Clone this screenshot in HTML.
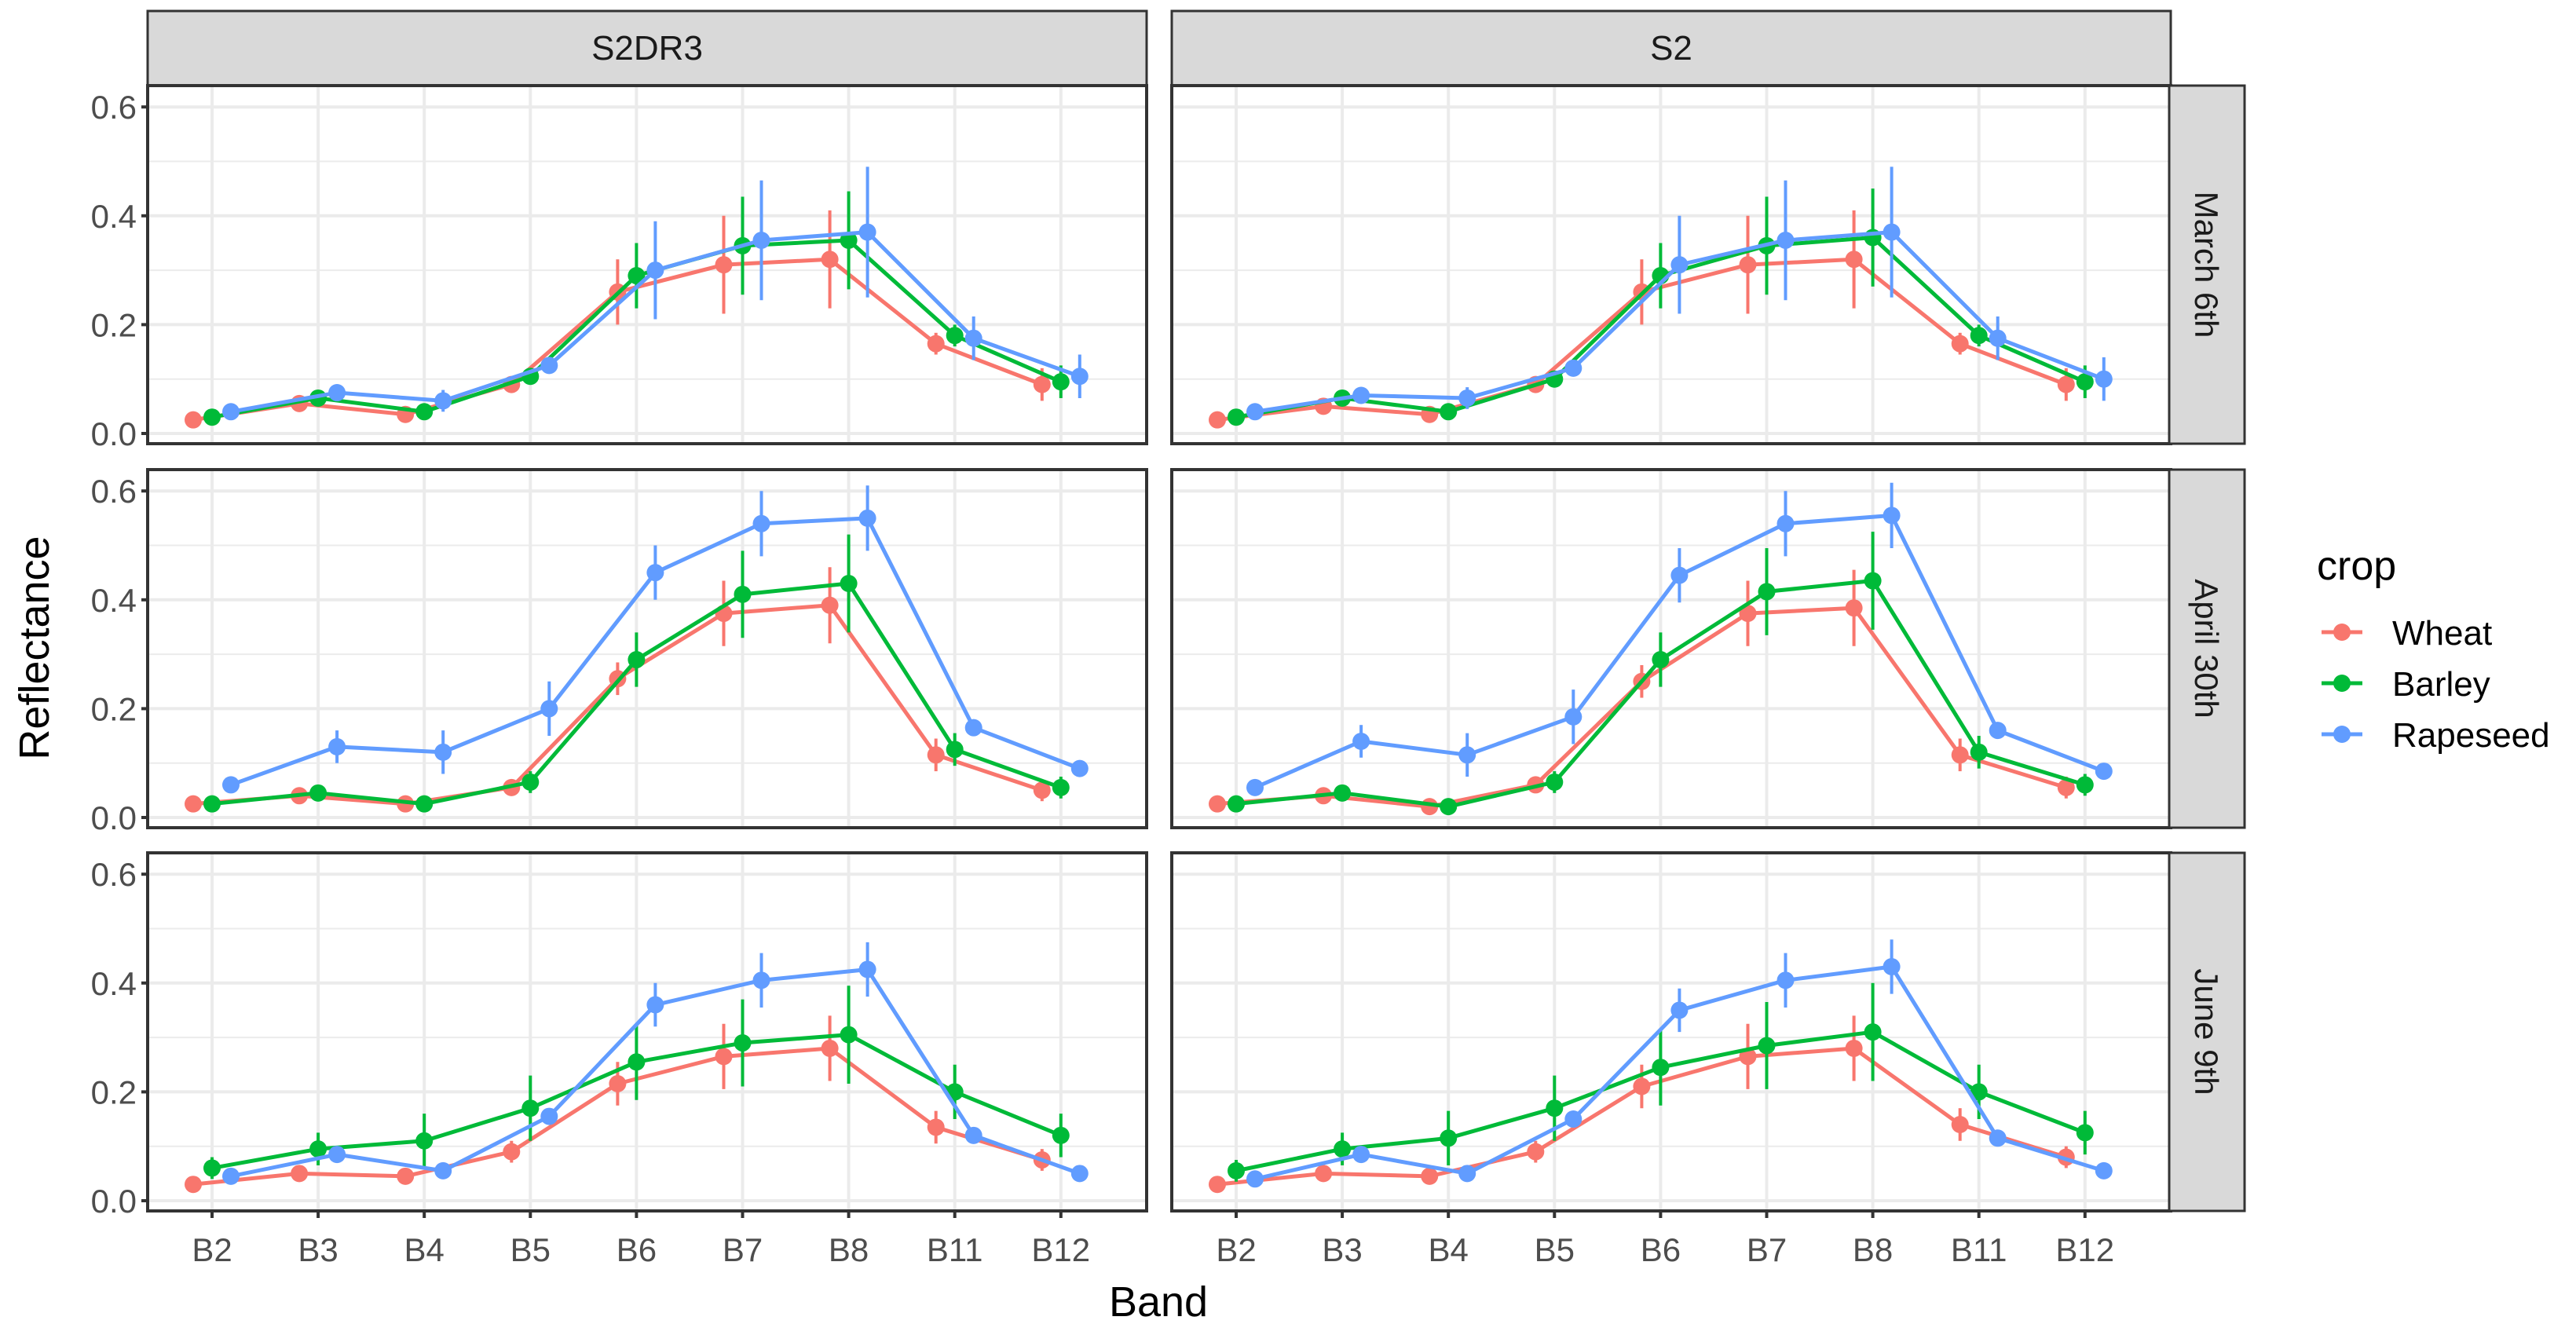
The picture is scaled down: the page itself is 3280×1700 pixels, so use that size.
<!DOCTYPE html>
<html><head><meta charset="utf-8"><style>
html,body{margin:0;padding:0;background:#fff}
svg{display:block;font-family:"Liberation Sans",Arial,sans-serif}
</style></head><body>
<svg id="chart" width="3280" height="1700" viewBox="0 0 3280 1700" xmlns="http://www.w3.org/2000/svg">
<rect width="3280" height="1700" fill="#fff"/>
<g id="layer"></g>
</svg>
<script>
const bands = ["B2","B3","B4","B5","B6","B7","B8","B11","B12"];
const crops = ["Wheat","Barley","Rapeseed"];
const sensors = ["S2DR3","S2"];
const dates = ["March 6th","April 30th","June 9th"];
const yTicks = [0.0,0.2,0.4,0.6];
const yTickLabels = ["0.0","0.2","0.4","0.6"];
// means [date][sensor][crop]
const wheatMean = [
 [[.025,.055,.035,.09,.26,.31,.32,.165,.09],[.025,.05,.035,.09,.26,.31,.32,.165,.09]],
 [[.025,.04,.025,.055,.255,.375,.39,.115,.05],[.025,.04,.02,.06,.25,.375,.385,.115,.055]],
 [[.03,.05,.045,.09,.215,.265,.28,.135,.075],[.03,.05,.045,.09,.21,.265,.28,.14,.08]]
];
const barleyMean = [
 [[.03,.065,.04,.105,.29,.345,.355,.18,.095],[.03,.065,.04,.10,.29,.345,.36,.18,.095]],
 [[.025,.045,.025,.065,.29,.41,.43,.125,.055],[.025,.045,.02,.065,.29,.415,.435,.12,.06]],
 [[.06,.095,.11,.17,.255,.29,.305,.20,.12],[.055,.095,.115,.17,.245,.285,.31,.20,.125]]
];
const rapeMean = [
 [[.04,.075,.06,.125,.30,.355,.37,.175,.105],[.04,.07,.065,.12,.31,.355,.37,.175,.10]],
 [[.06,.13,.12,.20,.45,.54,.55,.165,.09],[.055,.14,.115,.185,.445,.54,.555,.16,.085]],
 [[.045,.085,.055,.155,.36,.405,.425,.12,.05],[.04,.085,.05,.15,.35,.405,.43,.115,.055]]
];
// error half-widths [date][crop]
const wheatErr = [[.01,.01,.01,.01,.06,.09,.09,.02,.03],[.005,.01,.005,.01,.03,.06,.07,.03,.02],[.005,.01,.01,.02,.04,.06,.06,.03,.02]];
const barleyErr = [[.01,.01,.01,.01,.06,.09,.09,.02,.03],[.005,.01,.005,.02,.05,.08,.09,.03,.02],[.02,.03,.05,.06,.07,.08,.09,.05,.04]];
const rapeErr = [[.01,.01,.02,.01,.09,.11,.12,.04,.04],[.01,.03,.04,.05,.05,.06,.06,.01,.01],[.01,.01,.01,.01,.04,.05,.05,.01,.01]];
const colors = ["#F8766D","#00BA38","#619CFF"];

const NS="http://www.w3.org/2000/svg";
const layer=document.getElementById('layer');
function mk(tag,attrs,parent){const e=document.createElementNS(NS,tag);for(const k in attrs)e.setAttribute(k,attrs[k]);(parent||layer).appendChild(e);return e;}

const panelX=[188,1492], panelW=1272;
const panelTop=[109,598,1086], panelH=456;
const zeroOff=13, unit=693; // px per 1.0
const firstOff=82, step=135.1, dodge=24;
function xPos(col,i,c){return panelX[col]+firstOff+i*step+(c-1)*dodge;}
function yPos(row,v){return panelTop[row]+panelH-zeroOff-v*unit;}

const means=[wheatMean,barleyMean,rapeMean], errs=[wheatErr,barleyErr,rapeErr];

for(let col=0;col<2;col++){
  const st=mk('rect',{x:panelX[col],y:14,width:panelW,height:95,fill:'#D9D9D9',stroke:'#333',"stroke-width":3});
  
  
  const t=mk('text',{x:panelX[col]+panelW/2,y:76,"font-size":44,fill:'#1A1A1A',"text-anchor":'middle'});
  t.textContent=sensors[col];
  
  
  for(let row=0;row<3;row++){
    const g=mk('g',{});
    
    
    mk('rect',{x:panelX[col],y:panelTop[row],width:panelW,height:panelH,fill:'#fff'},g);
    for(let m=0.1;m<0.65;m+=0.2){mk('line',{x1:panelX[col],x2:panelX[col]+panelW,y1:yPos(row,m),y2:yPos(row,m),stroke:'#EBEBEB',"stroke-width":2},g);}
    yTicks.forEach(v=>mk('line',{x1:panelX[col],x2:panelX[col]+panelW,y1:yPos(row,v),y2:yPos(row,v),stroke:'#EBEBEB',"stroke-width":4},g));
    bands.forEach((b,i)=>mk('line',{x1:xPos(col,i,1),x2:xPos(col,i,1),y1:panelTop[row],y2:panelTop[row]+panelH,stroke:'#EBEBEB',"stroke-width":4},g));
    for(let c=0;c<3;c++){
      const vals=means[c][row][col], er=errs[c][row];
      const pts=vals.map((v,i)=>xPos(col,i,c)+','+yPos(row,v)).join(' ');
      const pl=mk('polyline',{points:pts,fill:'none',stroke:colors[c],"stroke-width":5,"stroke-linejoin":'round'},g);
      
      
      vals.forEach((v,i)=>{
        const x=xPos(col,i,c);
        const eb=mk('line',{x1:x,x2:x,y1:yPos(row,v-er[i]),y2:yPos(row,v+er[i]),stroke:colors[c],"stroke-width":4},g);
        
        
        const p=mk('circle',{cx:x,cy:yPos(row,v),r:11,fill:colors[c]},g);
        
        
      });
    }
    mk('rect',{x:panelX[col],y:panelTop[row],width:panelW,height:panelH,fill:'none',stroke:'#333',"stroke-width":4},g);
    if(col===0){
      yTicks.forEach((v,k)=>{
        mk('line',{x1:180,x2:188,y1:yPos(row,v),y2:yPos(row,v),stroke:'#333',"stroke-width":4});
        const tl=mk('text',{x:174,y:yPos(row,v)+15,"font-size":42,fill:'#4D4D4D',"text-anchor":'end'});
        tl.textContent=yTickLabels[k];
        
        
      });
    }
    if(col===1){
      const rs=mk('rect',{x:2762,y:panelTop[row],width:96,height:panelH,fill:'#D9D9D9',stroke:'#333',"stroke-width":3});
      
      
      const cy=panelTop[row]+panelH/2;
      const rt=mk('text',{x:2810,y:cy,"font-size":42,fill:'#1A1A1A',"text-anchor":'middle',transform:`rotate(90 2810 ${cy}) translate(0 15)`});
      rt.textContent=dates[row];
      
      
    }
  }
  bands.forEach((b,i)=>{
    const x=xPos(col,i,1);
    mk('line',{x1:x,x2:x,y1:1542,y2:1551,stroke:'#333',"stroke-width":4});
    const tl=mk('text',{x:x,y:1606,"font-size":42,fill:'#4D4D4D',"text-anchor":'middle'});
    tl.textContent=b;
    
    
  });
}
const xt=mk('text',{x:1475,y:1676,"font-size":54,fill:'#000',"text-anchor":'middle'});xt.textContent='Band';


const yt=mk('text',{x:62,y:825,"font-size":54,fill:'#000',"text-anchor":'middle',transform:'rotate(-90 62 825)'});yt.textContent='Reflectance';


const lt=mk('text',{x:2950,y:738,"font-size":52,fill:'#000'});lt.textContent='crop';


const ly=[805,870,935];
crops.forEach((c,k)=>{
  const g=mk('g',{});
  
  
  mk('line',{x1:2956,x2:3008,y1:ly[k],y2:ly[k],stroke:colors[k],"stroke-width":5},g);
  mk('circle',{cx:2982,cy:ly[k],r:11,fill:colors[k]},g);
  const t=mk('text',{x:3046,y:ly[k]+16,"font-size":44,fill:'#000'},g);t.textContent=c;
});
</script>
</body></html>
